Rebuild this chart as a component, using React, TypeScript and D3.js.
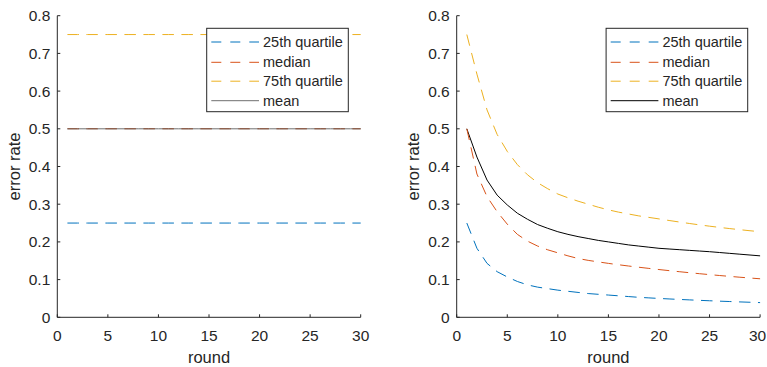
import React from "react";
import * as d3 from "d3";

const rounds = [1,2,3,4,5,6,7,8,9,10,11,12,13,14,15,16,17,18,19,20,21,22,23,24,25,26,27,28,29,30];

// Left panel (constant)
const leftQ25 = [0.25,0.25,0.25,0.25,0.25,0.25,0.25,0.25,0.25,0.25,0.25,0.25,0.25,0.25,0.25,0.25,0.25,0.25,0.25,0.25,0.25,0.25,0.25,0.25,0.25,0.25,0.25,0.25,0.25,0.25];
const leftMedian = [0.5,0.5,0.5,0.5,0.5,0.5,0.5,0.5,0.5,0.5,0.5,0.5,0.5,0.5,0.5,0.5,0.5,0.5,0.5,0.5,0.5,0.5,0.5,0.5,0.5,0.5,0.5,0.5,0.5,0.5];
const leftQ75 = [0.75,0.75,0.75,0.75,0.75,0.75,0.75,0.75,0.75,0.75,0.75,0.75,0.75,0.75,0.75,0.75,0.75,0.75,0.75,0.75,0.75,0.75,0.75,0.75,0.75,0.75,0.75,0.75,0.75,0.75];
const leftMean = [0.5,0.5,0.5,0.5,0.5,0.5,0.5,0.5,0.5,0.5,0.5,0.5,0.5,0.5,0.5,0.5,0.5,0.5,0.5,0.5,0.5,0.5,0.5,0.5,0.5,0.5,0.5,0.5,0.5,0.5];

// Right panel (decaying)
const rightQ25 = [0.25,0.183,0.143,0.121,0.107,0.095,0.086,0.08,0.076,0.072,0.069,0.066,0.063,0.061,0.059,0.057,0.055,0.053,0.0515,0.05,0.0487,0.0474,0.0462,0.045,0.0439,0.0428,0.0418,0.0408,0.0399,0.039];
const rightMedian = [0.5,0.38,0.32,0.28,0.247,0.22,0.202,0.189,0.179,0.171,0.163,0.156,0.151,0.147,0.143,0.1394,0.136,0.1328,0.1297,0.1267,0.1238,0.121,0.1183,0.1157,0.1132,0.1108,0.1085,0.1063,0.1042,0.1022];
const rightQ75 = [0.75,0.645,0.55,0.485,0.44,0.405,0.378,0.357,0.341,0.327,0.317,0.308,0.3,0.292,0.285,0.279,0.274,0.269,0.265,0.261,0.2568,0.2528,0.2489,0.2452,0.2417,0.2384,0.2353,0.2324,0.2296,0.227];
const rightMean = [0.5,0.425,0.364,0.324,0.298,0.276,0.26,0.246,0.236,0.227,0.22,0.214,0.209,0.204,0.2,0.196,0.192,0.189,0.186,0.183,0.1812,0.1794,0.1776,0.1758,0.174,0.1718,0.1696,0.1674,0.1652,0.163];

const legendLabels = ["25th quartile", "median", "75th quartile", "mean"];
const xTicks = [0, 5, 10, 15, 20, 25, 30];
const yTicks = [0, 0.1, 0.2, 0.3, 0.4, 0.5, 0.6, 0.7, 0.8];

const BLUE = "#0072BD";
const RED = "#D95319";
const YELLOW = "#EDB120";
const AX = "#262626";
const FONT = "'Liberation Sans', Arial, Helvetica, sans-serif";
const DASH = "11.5,7.5";

type PanelProps = {
  x0: number;
  q25: number[];
  med: number[];
  q75: number[];
  mean: number[];
  meanColor: string;
  medColor: string;
};

function Panel({ x0, q25, med, q75, mean, meanColor, medColor }: PanelProps) {
  const x = d3.scaleLinear().domain([0, 30]).range([x0, x0 + 303.4]);
  const y = d3.scaleLinear().domain([0, 0.8]).range([317.3, 15.7]);
  const mk = (vals: number[]) =>
    d3.line<number>().x((_, i) => x(rounds[i])).y((d) => y(d))(vals) || "";
  const legX = x0 + 149.4;
  const legY = 28.3;
  const rowY = [42, 62.3, 81.2, 100.7];
  const legStyles = [
    { c: BLUE, dash: "10,9" },
    { c: RED, dash: "10,9" },
    { c: YELLOW, dash: "10,9" },
    { c: meanColor, dash: "none" },
  ];
  return (
    <g>
      <path d={mk(q25)} fill="none" stroke={BLUE} strokeWidth={1} strokeDasharray={DASH} />
      <path d={mk(mean)} fill="none" stroke={meanColor} strokeWidth={1} />
      <path d={mk(med)} fill="none" stroke={medColor} strokeWidth={1} strokeDasharray={DASH} />
      <path d={mk(q75)} fill="none" stroke={YELLOW} strokeWidth={1} strokeDasharray={DASH} />
      <line x1={x(0)} x2={x(30)} y1={y(0)} y2={y(0)} stroke={AX} strokeWidth={1} />
      <line x1={x(0)} x2={x(0)} y1={y(0)} y2={y(0.8)} stroke={AX} strokeWidth={1} />
      {xTicks.map((t) => (
        <g key={"x" + t}>
          <line x1={x(t)} x2={x(t)} y1={y(0)} y2={y(0) - 3} stroke={AX} strokeWidth={1} />
          <text x={Math.min(x(t), 757.5)} y={340.5} textAnchor="middle" fontSize={15.5} fill={AX} fontFamily={FONT}>
            {t}
          </text>
        </g>
      ))}
      {yTicks.map((t) => (
        <g key={"y" + t}>
          <line x1={x(0)} x2={x(0) + 3} y1={y(t)} y2={y(t)} stroke={AX} strokeWidth={1} />
          <text x={x(0) - 7} y={y(t) + 5.5} textAnchor="end" fontSize={15.5} fill={AX} fontFamily={FONT}>
            {String(t)}
          </text>
        </g>
      ))}
      <text x={(x(0) + x(30)) / 2} y={363} textAnchor="middle" fontSize={16.5} fill={AX} fontFamily={FONT}>
        round
      </text>
      <text
        transform={`translate(${x0 - 37.3},${(y(0) + y(0.8)) / 2}) rotate(-90)`}
        textAnchor="middle"
        fontSize={16.5}
        fill={AX}
        fontFamily={FONT}
      >
        error rate
      </text>
      <rect x={legX} y={legY} width={141.6} height={83.4} fill="#fff" stroke={AX} strokeWidth={1} />
      {legendLabels.map((lab, i) => (
        <g key={lab}>
          <line
            x1={legX + 4.6}
            x2={legX + 52.3}
            y1={rowY[i]}
            y2={rowY[i]}
            stroke={legStyles[i].c}
            strokeWidth={1}
            strokeDasharray={legStyles[i].dash}
          />
          <text x={legX + 56.3} y={rowY[i] + 5} fontSize={14.5} fill={AX} fontFamily={FONT}>
            {lab}
          </text>
        </g>
      ))}
    </g>
  );
}

export default function App() {
  return (
    <svg
      width={767}
      height={367}
      style={{ position: "absolute", left: 0, top: 0, background: "#fff" }}
    >
      <rect x={0} y={0} width={767} height={367} fill="#fff" />
      <Panel x0={57.3} q25={leftQ25} med={leftMedian} q75={leftQ75} mean={leftMean} meanColor="#6f6f6f" medColor="#8a4a30" />
      <Panel x0={456.7} q25={rightQ25} med={rightMedian} q75={rightQ75} mean={rightMean} meanColor="#000000" medColor={RED} />
    </svg>
  );
}
